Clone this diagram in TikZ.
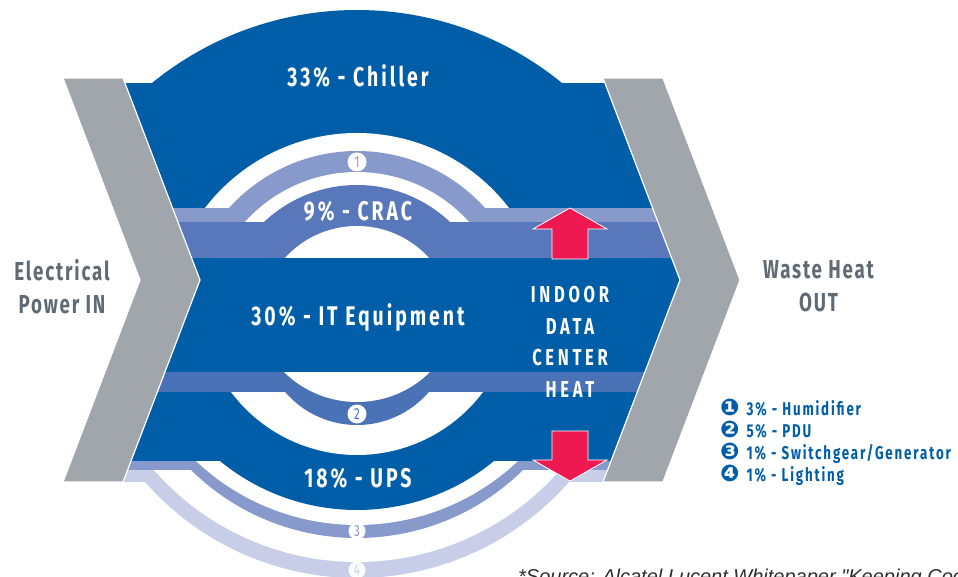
\documentclass[tikz,border=0pt]{standalone}
\usepackage{fontspec}
\setmainfont{Fira Sans}
\newfontfamily\condfont{Fira Sans}[FakeStretch=0.72, LetterSpace=11]
\newfontfamily\sidefont{Fira Sans}[FakeStretch=0.72, LetterSpace=7]
\newfontfamily\heatfont{Fira Sans}[FakeStretch=0.72, LetterSpace=16]
\newfontfamily\legfont{Fira Sans}[FakeStretch=0.72, LetterSpace=10]
\newfontfamily\notefont{Liberation Sans}
\newfontfamily\dingfont{DejaVu Sans}

\definecolor{flowBlue}{RGB}{0,94,168}
\definecolor{cracBlue}{RGB}{88,120,187}
\definecolor{pduBlue}{RGB}{74,114,183}
\definecolor{lightBand}{RGB}{136,153,204}
\definecolor{paleBand}{RGB}{200,206,232}
\definecolor{chevGray}{RGB}{160,166,172}
\definecolor{labelGray}{RGB}{96,106,116}
\definecolor{heatRed}{RGB}{237,25,80}
\definecolor{noteGray}{RGB}{45,45,45}

% filled circular cap: colour, left x, right x, chord y, apex y
\newcommand{\archup}[5]{%
	\pgfmathsetmacro\archh{(#3-#2)/2}%
	\pgfmathsetmacro\archs{#4-#5}%
	\pgfmathsetmacro\archr{100*((\archh/100)^2+(\archs/100)^2)/(2*\archs/100)}%
	\pgfmathsetmacro\archb{270-asin(\archh/\archr)}%
	\pgfmathsetmacro\arche{270+asin(\archh/\archr)}%
	\fill[#1] (#2,#4) arc[start angle=\archb, end angle=\arche, radius=\archr] -- cycle;}
\newcommand{\archdown}[5]{%
	\pgfmathsetmacro\archh{(#3-#2)/2}%
	\pgfmathsetmacro\archs{#5-#4}%
	\pgfmathsetmacro\archr{100*((\archh/100)^2+(\archs/100)^2)/(2*\archs/100)}%
	\pgfmathsetmacro\archb{90+asin(\archh/\archr)}%
	\pgfmathsetmacro\arche{90-asin(\archh/\archr)}%
	\fill[#1] (#2,#4) arc[start angle=\archb, end angle=\arche, radius=\archr] -- cycle;}
\newcommand{\legnum}[1]{{\dingfont\fontsize{23}{22}\selectfont #1}\hspace{2pt}}

\begin{document}
\begin{tikzpicture}[
	x=1pt, y=-1pt,
	flow/.style={text=white, font=\condfont\bfseries\fontsize{27}{30}\selectfont, anchor=base},
	heat/.style={text=white, font=\heatfont\bfseries\fontsize{23}{31.5}\selectfont, align=center},
	side/.style={text=labelGray, font=\sidefont\bfseries\fontsize{26}{33}\selectfont, align=center},
	badge/.style={circle, fill=white, inner sep=0pt, minimum size=19pt, font=\sidefont\fontsize{16}{16}\selectfont},
	legend/.style={text=flowBlue, font=\legfont\bfseries\fontsize{18.5}{22}\selectfont, anchor=base west, inner sep=0pt},
	chevron/.style={fill=chevGray, draw=white, line width=1.2pt},
	hotArrow/.style={fill=heatRed, draw=white, line width=0.8pt}
	]
	
	\useasboundingbox (0,0) rectangle (958,577);
	\clip (0,0) rectangle (958,577);
	
	% Flows between the chevrons
	\begin{scope}
		\clip (123,0) -- (123,78) -- (200,280) -- (123,482) -- (123,577) -- (603,577)
			-- (603,482) -- (680,280) -- (603,78) -- (603,0) -- cycle;
		
		% Lighting and switchgear
		\fill[paleBand] (100,470) rectangle (700,482);
		\archdown{paleBand}{145}{569}{482}{578}
		\archdown{white}{154}{560}{470}{562}
		\fill[lightBand] (100,461) rectangle (700,470);
		\archdown{lightBand}{191}{523}{470}{538}
		\archdown{white}{196}{518}{461}{525}
		
		% Main flow
		\archup{flowBlue}{152}{562}{83}{10}
		\fill[flowBlue] (100,83) rectangle (700,461);
		\archdown{flowBlue}{220}{494}{461}{510}
		
		% Humidifier and CRAC
		\archup{white}{205}{509}{208}{133}
		\fill[lightBand] (100,208) rectangle (700,222);
		\archup{lightBand}{229}{485}{208}{151}
		\archup{white}{245}{469}{222}{172}
		\fill[cracBlue] (100,222) rectangle (700,258);
		\archup{cracBlue}{264}{450}{222}{185}
		\archup{white}{285}{429}{258}{226}
		
		% PDU
		\fill[pduBlue] (100,372) rectangle (700,392);
		\archdown{white}{231}{483}{392}{455}
		\archdown{pduBlue}{272}{442}{372}{425}
		\archdown{white}{284}{430}{372}{402}
	\end{scope}
	
	% Chevrons
	\draw[chevron] (63,78) -- (123,78) -- (200,280) -- (123,482) -- (63,482) -- (140,280) -- cycle;
	\draw[chevron] (603,78) -- (663,78) -- (740,280) -- (663,482) -- (603,482) -- (680,280) -- cycle;
	
	% Heat arrows
	\draw[hotArrow] (552,259) -- (552,229) -- (533,229) -- (570,208) -- (607,229) -- (588,229) -- (588,259) -- cycle;
	\draw[hotArrow] (552,431) -- (588,431) -- (588,460) -- (607,460) -- (570,481) -- (533,460) -- (552,460) -- cycle;
	
	% Labels
	\node[flow] (chiller) at (358,87) {33\% - Chiller};
	\node[flow] (crac) at (358,221) {9\% - CRAC};
	\node[flow] (itequip) at (358,325) {30\% - IT Equipment};
	\node[flow] (ups) at (358,487) {18\% - UPS};
	\node[heat] (indoor) at (570,342) {INDOOR\\DATA\\CENTER\\HEAT};
	\node[side] (powerin) at (62,286.5) {Electrical\\Power IN};
	\node[side] (heatout) at (818.5,286.5) {Waste Heat\\OUT};
	
	\node[badge, text=lightBand] (one) at (357,162) {1};
	\node[badge, text=pduBlue] (two) at (357,414) {2};
	\node[badge, text=lightBand, minimum size=17pt] (three) at (357,531) {3};
	\node[badge, text=paleBand, minimum size=17pt] (four) at (357,570) {4};
	
	% Legend
	\node[legend] (humid) at (720,415) {\legnum{❶} 3\% - Humidifier};
	\node[legend] (pdu) at (720,437) {\legnum{❷} 5\% - PDU};
	\node[legend] (switch) at (720,459) {\legnum{❸} 1\% - Switchgear/Generator};
	\node[legend] (light) at (720,481) {\legnum{❹} 1\% - Lighting};
	
	\node[text=noteGray, font=\notefont\itshape\fontsize{20}{22}\selectfont, anchor=base west, inner sep=0pt]
		(source) at (518,583) {*Source: Alcatel Lucent Whitepaper "Keeping Cool};
\end{tikzpicture}
\end{document}
